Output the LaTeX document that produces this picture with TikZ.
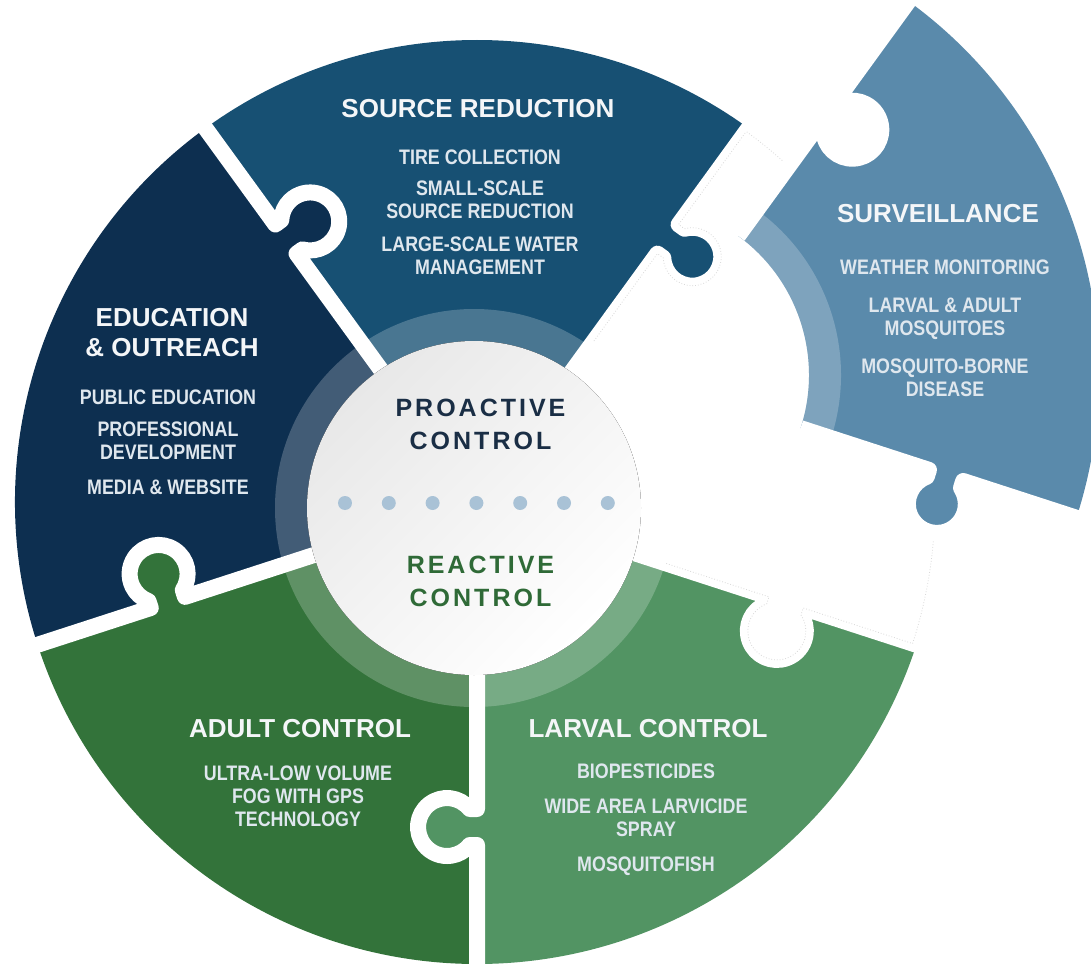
\documentclass[tikz,border=0pt]{standalone}
\usepackage{fontspec}
\setmainfont{Liberation Sans}
\newfontfamily\ttlfont{Liberation Sans}
\newfontfamily\itmfont{Liberation Sans}[FakeStretch=0.85]
\newfontfamily\ctrfont{Liberation Sans}[LetterSpace=12]
\definecolor{srblue}{HTML}{175073}
\definecolor{edunavy}{HTML}{0D2F50}
\definecolor{survblue}{HTML}{5A8AAB}
\definecolor{adultgreen}{HTML}{33733A}
\definecolor{larvalgreen}{HTML}{529463}
\definecolor{ttlc}{HTML}{F4F6F8}
\definecolor{itemc}{HTML}{DFE7EE}
\definecolor{dotc}{HTML}{A9C2D6}
\definecolor{proc}{HTML}{1A2E45}
\definecolor{reac}{HTML}{2F6A37}

\begin{document}
\begin{tikzpicture}[x=1pt,y=1pt,
  gap/.style={draw=white,line width=16pt,line join=round},
  band/.style={fill=white,fill opacity=0.22},
  ghost/.style={draw=black!15,dotted,line width=0.8pt},
  ttl/.style={text=ttlc,font=\ttlfont\bfseries\fontsize{26}{30}\selectfont,align=center,inner sep=0pt,anchor=north},
  itm/.style={text=itemc,font=\itmfont\bfseries\fontsize{21}{23}\selectfont,align=center,inner sep=0pt,anchor=north},
  ctr/.style={font=\ctrfont\bfseries\fontsize{25}{33}\selectfont,align=center,inner sep=0pt,anchor=north}]
\useasboundingbox (-477,-464) rectangle (614,502);
\foreach \a/\b/\c in {54/126/srblue,126/198/edunavy,198/270/adultgreen,270/342/larvalgreen}
  \fill[\c] (\a:100) arc[start angle=\a,end angle=\b,radius=100] -- (\b:462) arc[start angle=\b,end angle=\a,radius=462] -- cycle;
\foreach \a/\c in {54/srblue,126/edunavy,198/adultgreen,270/larvalgreen,342/white}
  \fill[\c,rotate=\a] (325,-30) circle (29) (307,2) rectangle (343,-20);
\fill[band] (-3,-6) circle (199);
\foreach \a in {54,126,198,270,342}
  \draw[gap,rotate=\a] (100,0) -- (307,0) -- (307,-7.26) arc[start angle=128.4,end angle=411.6,radius=29] -- (343,0) -- (470,0);
\foreach \a in {54,-18}
  \draw[ghost,rotate=\a] (199,0) -- (307,0) -- (307,-7.26) arc[start angle=128.4,end angle=411.6,radius=29] -- (343,0) -- (458,0);
\draw[ghost] (-18:458) arc[start angle=-18,end angle=54,radius=458];
\fill[top color=black!9,bottom color=white,shading angle=45] (-3,-6) circle (167);
\foreach \i in {0,...,6}
  \fill[dotc] (-132+43.8*\i,-1) circle (7);
\node[ctr,text=proc] (pro) at (3.5,103) {PROACTIVE\\CONTROL};
\node[ctr,text=reac] (rea) at (3.5,-54) {REACTIVE\\CONTROL};

\begin{scope}[shift={(160,127)}]
  \fill[survblue] (-18:172) arc[start angle=-18,end angle=54,radius=172] -- (54:462) arc[start angle=54,end angle=-18,radius=462] -- cycle;
  \fill[band] (-18:172) arc[start angle=-18,end angle=54,radius=172] -- (54:204) arc[start angle=54,end angle=-18,radius=204] -- cycle;
  \fill[survblue,rotate=-18] (325,-30) circle (29) (307,2) rectangle (343,-20);
  \fill[white,rotate=54] (325,-30) circle (29) (307,2) rectangle (343,-20);
  \foreach \a in {54,-18}
    \draw[gap,rotate=\a] (172,0) -- (307,0) -- (307,-7.26) arc[start angle=128.4,end angle=411.6,radius=29] -- (343,0) -- (470,0);
\end{scope}

\node[ttl] (srt) at (1,403) {SOURCE REDUCTION};
\node[itm] (sri) at (3,352.5) {TIRE COLLECTION\\[8pt]SMALL-SCALE\\SOURCE REDUCTION\\[10pt]LARGE-SCALE WATER\\MANAGEMENT};
\node[ttl] (edt) at (-305,194.3) {EDUCATION\\\& OUTREACH};
\node[itm] (edi) at (-309,112.5) {PUBLIC EDUCATION\\[9pt]PROFESSIONAL\\DEVELOPMENT\\[12pt]MEDIA \& WEBSITE};
\node[ttl] (svt) at (461,298.3) {SURVEILLANCE};
\node[itm] (svi) at (468,242.5) {WEATHER MONITORING\\[15pt]LARVAL \& ADULT\\MOSQUITOES\\[15pt]MOSQUITO-BORNE\\DISEASE};
\node[ttl] (adt) at (-177,-216.7) {ADULT CONTROL};
\node[itm] (adi) at (-179,-263.5) {ULTRA-LOW VOLUME\\FOG WITH GPS\\TECHNOLOGY};
\node[ttl] (lvt) at (171,-216.7) {LARVAL CONTROL};
\node[itm] (lvi) at (169,-261.5) {BIOPESTICIDES\\[12pt]WIDE AREA LARVICIDE\\SPRAY\\[12pt]MOSQUITOFISH};
\end{tikzpicture}
\end{document}
